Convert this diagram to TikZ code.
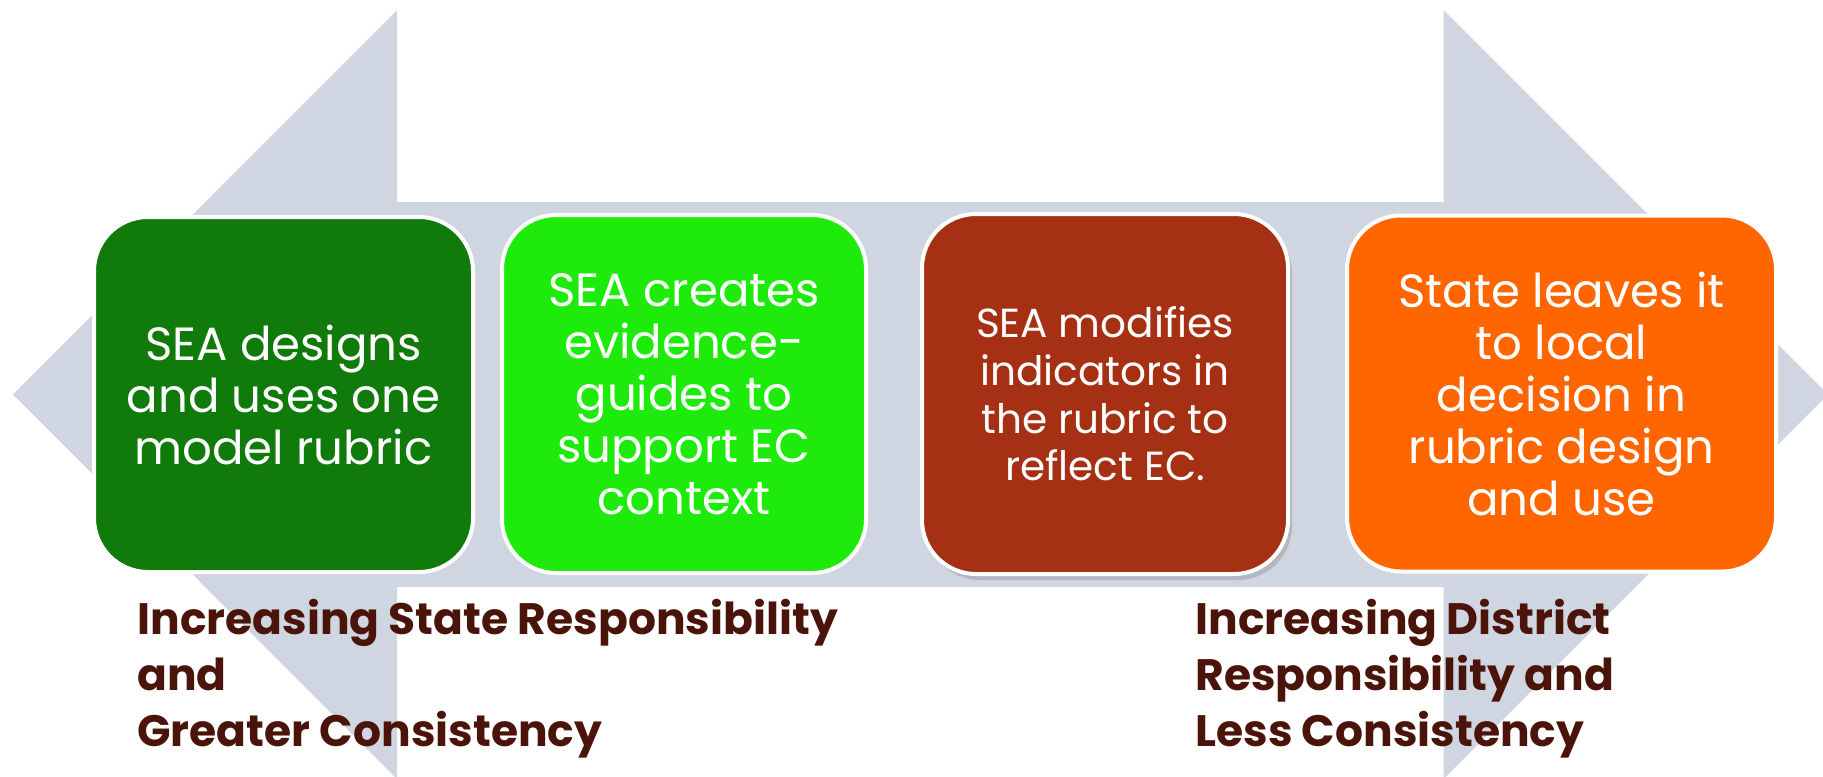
\documentclass[tikz,border=0pt]{standalone}
\usepackage{fontspec}
\setmainfont{Poppins}
\usetikzlibrary{shadows}
\definecolor{arrowgrey}{HTML}{CFD6E1}
\definecolor{stepA}{HTML}{107A0A}
\definecolor{stepB}{HTML}{1EEB0B}
\definecolor{stepC}{HTML}{A53013}
\definecolor{stepD}{HTML}{FF6600}
\definecolor{labelbrown}{HTML}{4A140A}
\begin{document}
\begin{tikzpicture}[x=0.5pt,y=-0.5pt,
  stepbox/.style={draw=white, line width=2pt, rounded corners=27pt, text=white,
    align=center, inner sep=0pt, font=\fontsize{23.3}{26}\selectfont},
  scalelabel/.style={text=labelbrown, align=left, inner sep=0pt, anchor=north west,
    font=\bfseries\fontsize{22}{28}\selectfont}]
\useasboundingbox (0,0) rectangle (1823,776);
\clip (0,0) rectangle (1823,776);
% two-headed background arrow
\fill[arrowgrey] (13,394.5) -- (397,10) -- (397,202) -- (1443.5,202) -- (1443.5,10)
  -- (1828,394.5) -- (1443.5,779) -- (1443.5,587) -- (397,587) -- (397,779) -- cycle;
% the four steps
\node[stepbox, fill=stepA, minimum width=189.5pt, minimum height=177.5pt] (s1) at (283.5,394.5)
  {SEA designs\\and uses one\\model rubric};
\node[stepbox, fill=stepB, minimum width=182pt, minimum height=179pt] (s2) at (684,394)
  {SEA creates\\evidence-\\guides to\\support EC\\context};
\node[stepbox, fill=stepC, minimum width=183pt, minimum height=180pt,
  font=\fontsize{20.3}{23.8}\selectfont,
  drop shadow={opacity=0.35, shadow xshift=2pt, shadow yshift=-3pt}] (s3) at (1105,394)
  {SEA modifies\\indicators in\\the rubric to\\reflect EC.};
\node[stepbox, fill=stepD, minimum width=214.5pt, minimum height=178pt] (s4) at (1561.5,393.5)
  {State leaves it\\to local\\decision in\\rubric design\\and use};
% scale labels
\node[scalelabel] (left) at (137,599)
  {Increasing State Responsibility\\and\\Greater Consistency};
\node[scalelabel] (right) at (1195,599)
  {Increasing District\\Responsibility and\\Less Consistency};
\end{tikzpicture}
\end{document}
